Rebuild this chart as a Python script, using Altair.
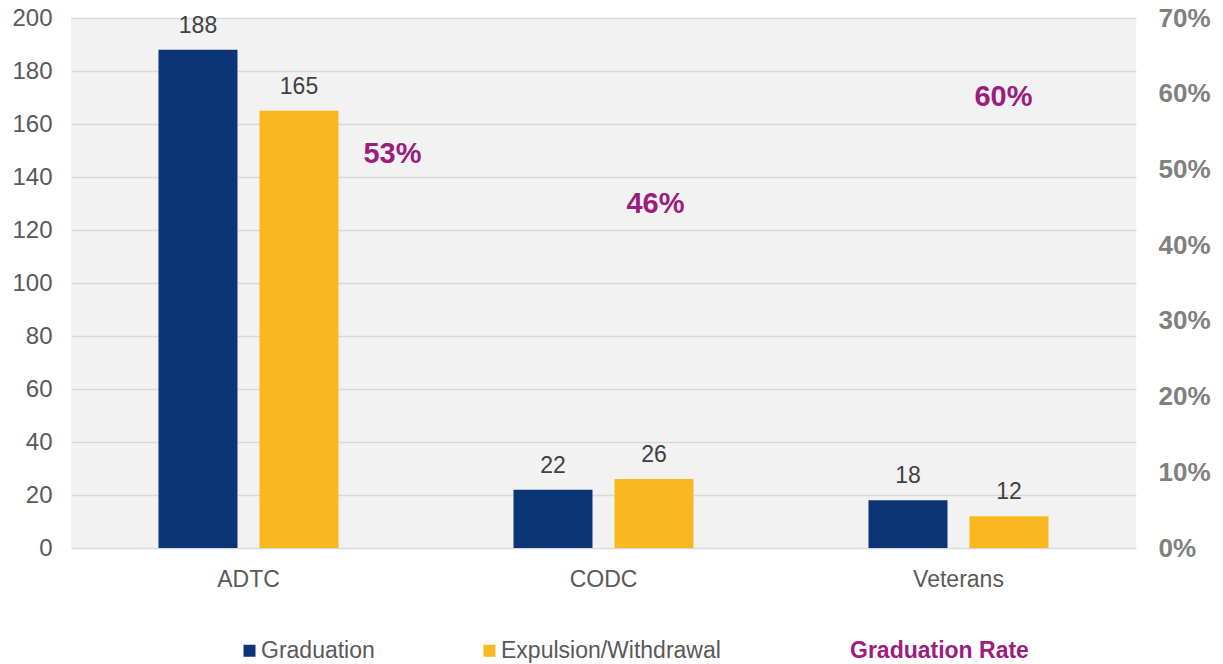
import altair as alt
import pandas as pd

categories = ["ADTC", "CODC", "Veterans"]
graduation = [188, 22, 18]
expulsion = [165, 26, 12]
grad_rate = [0.53, 0.46, 0.60]
series_names = ["Graduation", "Expulsion/Withdrawal"]
rate_name = "Graduation Rate"

rows = []
for c, g, e in zip(categories, graduation, expulsion):
    rows.append({"cat": c, "series": series_names[0], "value": g})
    rows.append({"cat": c, "series": series_names[1], "value": e})
bars_df = pd.DataFrame(rows)
rate_df = pd.DataFrame({"cat": categories, "rate": grad_rate, "series": [rate_name] * len(categories)})

FONT = "Liberation Sans"
BLUE = "#0b3577"
YELLOW = "#f9b81f"
PURPLE = "#9c1c80"

x_enc = alt.X(
    "cat:N", sort=categories,
    scale=alt.Scale(paddingInner=0, paddingOuter=0),
    axis=alt.Axis(title=None, labelAngle=0, labelFontSize=23, labelColor="#595959",
                  labelPadding=20, ticks=False, domain=False, labelFont=FONT),
)
xoff_enc = alt.XOffset(
    "series:N", sort=series_names,
    scale=alt.Scale(domain=series_names, paddingInner=0.218, paddingOuter=0.866),
)
y_left = alt.Y(
    "value:Q",
    scale=alt.Scale(domain=[0, 200]),
    axis=alt.Axis(title=None, values=list(range(0, 201, 20)), grid=True, gridColor="#d9d9d9",
                  gridWidth=1.5, ticks=False, domain=False, labelFontSize=24,
                  labelColor="#595959", labelPadding=19, labelFont=FONT),
)
color_enc = alt.Color(
    "series:N", sort=series_names,
    scale=alt.Scale(domain=series_names, range=[BLUE, YELLOW]),
    legend=alt.Legend(title=None, orient="none", direction="horizontal", legendX=167, legendY=621,
                      symbolType="square", symbolSize=144, symbolStrokeWidth=0,
                      labelFontSize=23, labelColor="#595959", labelFont=FONT, labelLimit=0,
                      columnPadding=103, labelOffset=0),
)

bars = alt.Chart(bars_df).mark_bar().encode(x=x_enc, xOffset=xoff_enc, y=y_left, color=color_enc)
bar_labels = alt.Chart(bars_df).mark_text(
    dy=-17, baseline="alphabetic", fontSize=23, color="#404040", font=FONT
).encode(x=x_enc, xOffset=xoff_enc, y=alt.Y("value:Q"), text="value:Q")
left = alt.layer(bars, bar_labels)

y_right = alt.Y(
    "rate:Q",
    scale=alt.Scale(domain=[0, 0.7]),
    axis=alt.Axis(title=None, orient="right", format=".0%", values=[0, 0.1, 0.2, 0.3, 0.4, 0.5, 0.6, 0.7],
                  grid=False, ticks=False, domain=False, labelFontSize=26, labelFontWeight="bold",
                  labelColor="#808080", labelPadding=22, labelFont=FONT),
)
rate_color = alt.Color(
    "series:N",
    scale=alt.Scale(domain=[rate_name], range=[PURPLE]),
    legend=alt.Legend(title=None, orient="none", legendX=756, legendY=621,
                      symbolSize=0, symbolOpacity=0, symbolStrokeWidth=0, labelOffset=0,
                      labelFontSize=23, labelFontWeight="bold", labelColor=PURPLE,
                      labelFont=FONT, labelLimit=0),
)
offsets = {"ADTC": (144, 7), "CODC": (52, 4), "Veterans": (45, 3)}
rate_layers = []
for cat in categories:
    dx, dy = offsets[cat]
    rate_layers.append(
        alt.Chart(rate_df).transform_filter(alt.datum.cat == cat).mark_text(
            dx=dx, dy=dy, baseline="middle", fontSize=29, fontWeight="bold", font=FONT
        ).encode(x=x_enc, y=y_right, text=alt.Text("rate:Q", format=".0%"), color=rate_color)
    )
right = alt.layer(*rate_layers)

chart = alt.layer(left, right).resolve_scale(y="independent", color="independent").properties(
    width=1065, height=530,
    autosize=alt.AutoSizeParams(type="none"),
    padding={"left": 63, "top": 10, "right": 79, "bottom": 116},
).configure_view(fill="#f2f2f2", strokeWidth=0)

chart.save("out.html", embed_options={"renderer": "svg", "actions": False})
